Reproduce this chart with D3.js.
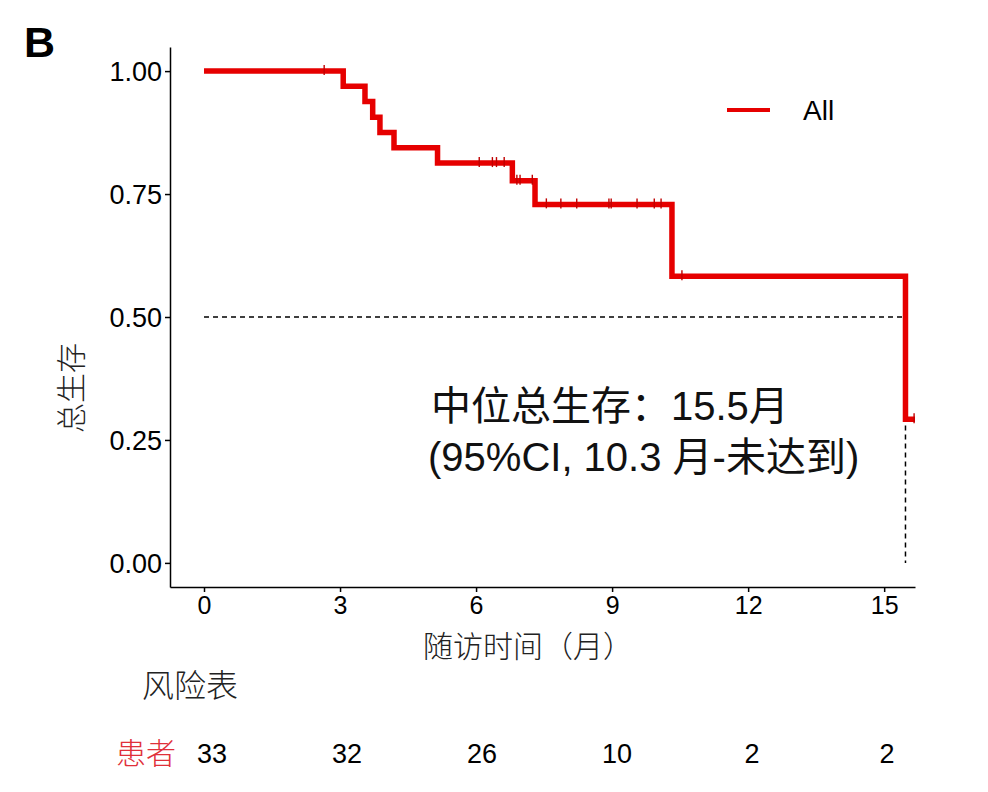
<!DOCTYPE html>
<html lang="zh">
<head>
    <meta charset="UTF-8">
    <title>总生存</title>
    <script src="https://cdn.jsdelivr.net/npm/d3@7/dist/d3.min.js"></script>
    <style>
        body { margin: 0; background: #fff; }
        svg { display: block; font-family: "Liberation Sans", Arial, "Noto Sans CJK SC", sans-serif; }
        svg .axis path, svg .axis line { stroke: #000; stroke-width: 1.5px; }
        svg .axis text { fill: #000; font-family: "Liberation Sans", Arial, sans-serif; }
        svg .y-axis text { font-size: 27px; }
        svg .x-axis text { font-size: 25px; }
        svg .km-line { fill: none; stroke: #e60000; stroke-width: 5.5px; stroke-linejoin: miter; }
        svg .censor { stroke: #c00000; stroke-width: 1.4px; }
        svg .median { fill: none; stroke: #000; stroke-width: 1.5px; stroke-dasharray: 5 4; }
        svg .cjk { font-family: "Noto Sans CJK SC", sans-serif; font-weight: 300; }
    </style>
</head>
<body>
    <svg width="988" height="792"></svg>
    <script>
        // KM steps (months, survival)
        var stepTimes = [0, 3.07, 3.55, 3.72, 3.88, 4.19, 5.15, 6.80, 7.30, 10.32, 15.47],
            stepSurv = [1, 0.969, 0.938, 0.906, 0.875, 0.844, 0.813, 0.777, 0.729, 0.583, 0.292],
            endTime = 15.68,
            censorTimes = [2.65, 6.07, 6.36, 6.45, 6.62, 6.90, 6.97, 7.24, 7.55, 7.87, 8.22,
                           8.93, 8.98, 9.55, 9.93, 10.08, 10.54, 15.66],
            medianTime = 15.47,
            xTicks = [0, 3, 6, 9, 12, 15],
            yTicks = [0, 0.25, 0.5, 0.75, 1],
            riskTimes = [0, 3, 6, 9, 12, 15],
            riskCounts = [33, 32, 26, 10, 2, 2];

        var svg = d3.select('svg');

        var x = d3.scaleLinear().domain([-0.75, 15.68]).range([170, 915]),
            y = d3.scaleLinear().domain([-0.049, 1.049]).range([587, 47]),
            xRisk = d3.scaleLinear().domain([0, 15]).range([212, 887]);

        // axes
        svg.append('g')
            .attr('class', 'axis y-axis')
            .attr('transform', 'translate(170,0)')
            .call(d3.axisLeft(y).tickValues(yTicks).tickFormat(d3.format('.2f'))
                .tickSizeInner(5).tickSizeOuter(0).tickPadding(3))
            .selectAll('text').attr('dy', '0.36em');

        svg.append('g')
            .attr('class', 'axis x-axis')
            .attr('transform', 'translate(0,587)')
            .call(d3.axisBottom(x).tickValues(xTicks).tickFormat(d3.format('d'))
                .tickSizeInner(5).tickSizeOuter(0).tickPadding(4));

        // median lines
        svg.append('path')
            .attr('class', 'median')
            .attr('d', 'M' + x(0) + ',' + y(0.5) + 'H' + x(medianTime) + 'V' + y(0));

        // survival curve
        var pts = stepTimes.map(function(t, i) { return [t, stepSurv[i]]; });
        pts.push([endTime, stepSurv[stepSurv.length - 1]]);

        svg.append('path')
            .datum(pts)
            .attr('class', 'km-line')
            .attr('d', d3.line()
                .x(function(d) { return x(d[0]); })
                .y(function(d) { return y(d[1]); })
                .curve(d3.curveStepAfter));

        // censor marks
        var bis = d3.bisector(function(d) { return d; }).right;
        function survAt(t) { return stepSurv[Math.max(0, bis(stepTimes, t) - 1)]; }

        svg.selectAll('.censor')
            .data(censorTimes)
            .enter().append('line')
            .attr('class', 'censor')
            .attr('x1', function(d) { return x(d); })
            .attr('x2', function(d) { return x(d); })
            .attr('y1', function(d) { return y(survAt(d)) - 6; })
            .attr('y2', function(d) { return y(survAt(d)) + 4; });

        // legend
        svg.append('line')
            .attr('x1', 727).attr('x2', 770)
            .attr('y1', 110).attr('y2', 110)
            .attr('stroke', '#e60000').attr('stroke-width', 4);
        svg.append('text')
            .attr('x', 803).attr('y', 120)
            .attr('font-size', 28)
            .text('All');

        // annotation
        var note = svg.append('text')
            .attr('font-size', 40)
            .attr('fill', '#111');
        note.append('tspan').attr('x', 431).attr('y', 420).text('中位总生存：15.5月');
        note.append('tspan').attr('x', 428).attr('y', 471).text('(95%CI, 10.3 月-未达到)');

        // panel letter
        svg.append('text')
            .attr('x', 24).attr('y', 57)
            .attr('font-size', 43).attr('font-weight', 'bold')
            .text('B');

        // axis titles
        svg.append('text')
            .attr('class', 'cjk')
            .attr('transform', 'translate(82,388) rotate(-90)')
            .attr('text-anchor', 'middle')
            .attr('font-size', 30)
            .attr('fill', '#222')
            .text('总生存');

        svg.append('text')
            .attr('class', 'cjk')
            .attr('x', 528).attr('y', 657)
            .attr('text-anchor', 'middle')
            .attr('font-size', 30)
            .attr('fill', '#222')
            .text('随访时间（月）');

        // risk table
        svg.append('text')
            .attr('class', 'cjk')
            .attr('x', 142).attr('y', 697)
            .attr('font-size', 32)
            .attr('fill', '#222')
            .text('风险表');

        svg.append('text')
            .attr('class', 'cjk')
            .attr('x', 116).attr('y', 764)
            .attr('font-size', 30)
            .attr('fill', '#e0303a')
            .text('患者');

        svg.selectAll('.risk')
            .data(riskCounts)
            .enter().append('text')
            .attr('class', 'risk')
            .attr('x', function(d, i) { return xRisk(riskTimes[i]); })
            .attr('y', 763)
            .attr('text-anchor', 'middle')
            .attr('font-size', 27)
            .text(function(d) { return d; });
    </script>
</body>
</html>
